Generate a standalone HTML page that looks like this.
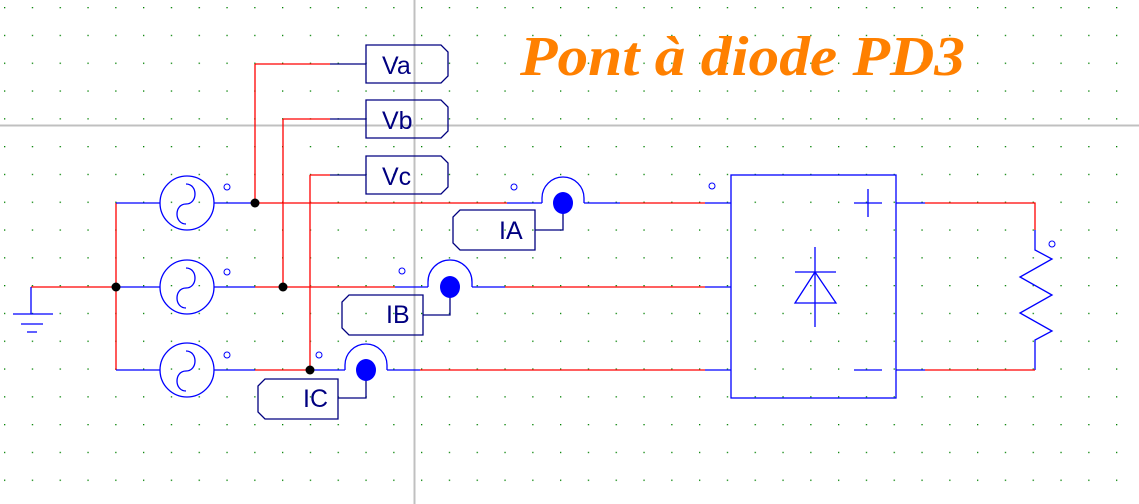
<!DOCTYPE html>
<html><head><meta charset="utf-8"><style>
html,body{margin:0;padding:0;background:#fff;}
svg{display:block;}
text{font-family:"Liberation Sans",sans-serif;}
</style></head><body>
<svg width="1139" height="504" viewBox="0 0 1139 504" xmlns="http://www.w3.org/2000/svg">
<defs>
<pattern id="g" x="4" y="7" width="27.8" height="27.8" patternUnits="userSpaceOnUse">
<rect x="0" y="0" width="1.3" height="1.3" fill="#008000"/>
</pattern>
</defs>
<rect width="1139" height="504" fill="#fff"/>
<rect width="1139" height="504" fill="url(#g)"/>
<line x1="414.5" y1="0" x2="414.5" y2="504" stroke="#c0c0c0" stroke-width="2"/>
<line x1="0" y1="125.5" x2="1139" y2="125.5" stroke="#c0c0c0" stroke-width="2"/>

<text x="520" y="75" textLength="445" lengthAdjust="spacingAndGlyphs" font-style="italic" font-weight="bold" font-size="56" fill="#ff8000" style="font-family:'Liberation Serif',serif">Pont à diode PD3</text>

<g fill="none" stroke-width="1.3">
<path d="M31 287H116" stroke="#f00"/>
<path d="M31 287V314M13 314H53M21 324H43M27 332H37" stroke="#00f"/>
<path d="M116 203V370" stroke="#f00"/>
<path d="M116 203H160M116 287H160M116 370H160" stroke="#00f"/>
<g stroke="#00f">
<circle cx="187" cy="203" r="27"/><circle cx="187" cy="287" r="27"/><circle cx="187" cy="370" r="27"/>
<path d="M186 184c12 0 12 20 0 20s-12 20 0 20"/>
<path d="M186 268c12 0 12 20 0 20s-12 20 0 20"/>
<path d="M186 351c12 0 12 20 0 20s-12 20 0 20"/>
<path d="M214 203H255M214 287H255M214 370H255"/>
</g>
<path d="M255 64V203M283 119V287M310 175V370" stroke="#f00"/>
<path d="M255 64H330M283 119H330M310 175H330" stroke="#f00"/>
<path d="M330 64H366M330 119H366M330 175H366" stroke="#000080"/>
<path d="M255 203H507" stroke="#f00"/>
<path d="M507 203H542M584 203H620M705 203H731" stroke="#00f"/>
<path d="M620 203H705" stroke="#f00"/>
<path d="M542 203V198A21 21 0 0 1 584 198V203" stroke="#00f"/>
<path d="M255 287H395M505 287H705" stroke="#f00"/>
<path d="M395 287H428M472 287H505M705 287H731" stroke="#00f"/>
<path d="M428 287V282A22 22 0 0 1 472 282V287" stroke="#00f"/>
<path d="M255 370H310M420 370H705" stroke="#f00"/>
<path d="M310 370H345M387 370H420M705 370H731" stroke="#00f"/>
<path d="M345 370V365A21 21 0 0 1 387 365V370" stroke="#00f"/>
<g stroke="#00f">
<rect x="731" y="175" width="165" height="223"/>
<path d="M854 203H882M868 189V217M854 370H882"/>
<path d="M815 247V327M795 272H836M815 272L795 303H836Z"/>
<path d="M896 203H925M896 370H925"/>
<path d="M1035 230V250L1052 259L1020 277L1052 295L1020 313L1052 331L1035 340V370"/>
</g>
<path d="M925 203H1035V230M925 370H1035" stroke="#f00"/>
<g stroke="#00f" stroke-width="1">
<circle cx="227" cy="187" r="3"/><circle cx="227" cy="272" r="3"/><circle cx="227" cy="355" r="3"/>
<circle cx="402" cy="271" r="3"/><circle cx="319" cy="355" r="3"/><circle cx="514" cy="187" r="3"/>
<circle cx="712" cy="186" r="3"/><circle cx="1052" cy="244" r="3"/>
</g>
<g stroke="#000080">
<path d="M366 45H441L448 52V76L441 83H366Z"/>
<path d="M366 100H441L448 107V131L441 138H366Z"/>
<path d="M366 156H441L448 163V187L441 194H366Z"/>
<path d="M535 210H460L453 217V243L460 250H535Z"/>
<path d="M423 295H349L342 302V328L349 335H423Z"/>
<path d="M338 379H265L258 386V412L265 419H338Z"/>
<path d="M535 230H563V203M423 315H450V287M338 398H366V370"/>
</g>
</g>
<g fill="#00f">
<ellipse cx="563" cy="203" rx="10" ry="11"/>
<ellipse cx="450" cy="287" rx="10" ry="11"/>
<ellipse cx="366" cy="370" rx="10" ry="11"/>
</g>
<g fill="#000">
<circle cx="116" cy="287" r="4.5"/><circle cx="255" cy="203" r="4.5"/>
<circle cx="283" cy="287" r="4.5"/><circle cx="310" cy="370" r="4.5"/>
</g>
<g fill="#000080" font-size="25">
<text x="382" y="74">Va</text>
<text x="382" y="129">Vb</text>
<text x="382" y="185">Vc</text>
<text x="499" y="239">IA</text>
<text x="386" y="323">IB</text>
<text x="303" y="407">IC</text>
</g>
</svg>
</body></html>
